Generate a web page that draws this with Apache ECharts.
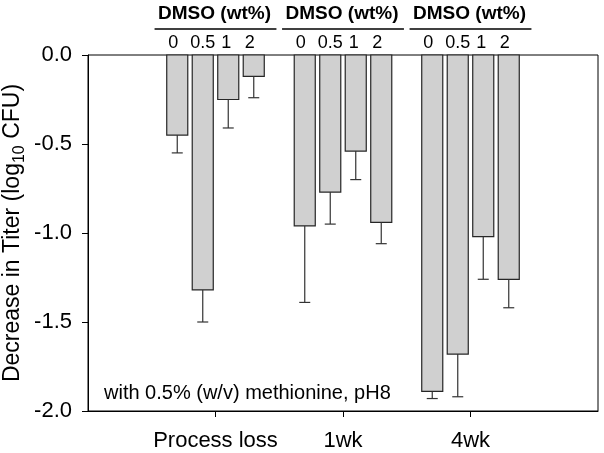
<!DOCTYPE html>
<html><head><meta charset="utf-8">
<script src="https://cdn.jsdelivr.net/npm/echarts@6/dist/echarts.min.js"></script>
<style>html,body{margin:0;padding:0;background:#fff}#c{width:604px;height:453px}</style>
</head><body><div id="c"></div>
<script>
const categories = ['Process loss', '1wk', '4wk'];
const dmsoLevels = ['0', '0.5', '1', '2'];
const titerDMSO0 = [-0.45, -0.96, -1.89];
const titerDMSO05 = [-1.32, -0.77, -1.68];
const titerDMSO1 = [-0.25, -0.54, -1.02];
const titerDMSO2 = [-0.12, -0.94, -1.26];
const errDMSO0 = [0.10, 0.43, 0.04];
const errDMSO05 = [0.18, 0.18, 0.24];
const errDMSO1 = [0.16, 0.16, 0.24];
const errDMSO2 = [0.12, 0.12, 0.16];
const yTicks = [-2.0, -1.5, -1.0, -0.5, 0.0];
const groupHeader = 'DMSO (wt%)';
const note = 'with 0.5% (w/v) methionine, pH8';

const values = [titerDMSO0, titerDMSO05, titerDMSO1, titerDMSO2];
const errors = [errDMSO0, errDMSO05, errDMSO1, errDMSO2];
const offsets = [-0.3, -0.1, 0.1, 0.3];
const labelShift = [-4, 0, -2, -4];
const BAR_W = 0.165;
const FONT = '"Liberation Sans", Arial, sans-serif';

function barItem(params, api) {
  const x = api.value(0), v = api.value(1), e = api.value(2);
  const p0 = api.coord([x - BAR_W / 2, 0]);
  const p1 = api.coord([x + BAR_W / 2, v]);
  const top = api.coord([x, v]);
  const end = api.coord([x, v - e]);
  const cap = 5.5;
  return { type: 'group', children: [
    { type: 'rect', shape: { x: p0[0], y: p0[1], width: p1[0] - p0[0], height: p1[1] - p0[1] },
      style: { fill: '#d0d0d0', stroke: '#262626', lineWidth: 1.2 } },
    { type: 'line', shape: { x1: top[0], y1: top[1], x2: end[0], y2: end[1] },
      style: { stroke: '#333', lineWidth: 1.2 } },
    { type: 'line', shape: { x1: end[0] - cap, y1: end[1], x2: end[0] + cap, y2: end[1] },
      style: { stroke: '#333', lineWidth: 1.2 } }
  ]};
}

function headerItem(params, api) {
  const x = api.value(0);
  const c = api.coord([x, 0]);
  const l = api.coord([x - 0.478, 0]);
  const r = api.coord([x + 0.478, 0]);
  const children = [
    { type: 'text', x: c[0] - 1, y: c[1] - 41, style: { text: groupHeader, fontSize: 19, fontWeight: 'bold', fontFamily: FONT, fill: '#000', align: 'center', verticalAlign: 'middle' } },
    { type: 'line', shape: { x1: l[0], y1: c[1] - 26, x2: r[0], y2: c[1] - 26 }, style: { stroke: '#000', lineWidth: 1.5 } }
  ];
  dmsoLevels.forEach((lv, j) => {
    const p = api.coord([x + offsets[j], 0]);
    children.push({ type: 'text', x: p[0] + labelShift[j], y: c[1] - 12, style: { text: lv, fontSize: 18, fontFamily: FONT, fill: '#000', align: 'center', verticalAlign: 'middle' } });
  });
  return { type: 'group', children };
}

const series = dmsoLevels.map((lv, j) => ({
  type: 'custom',
  name: lv,
  renderItem: barItem,
  encode: { x: 0, y: 1 },
  clip: false,
  data: categories.map((c, i) => [i + 1 + offsets[j], values[j][i], errors[j][i]])
}));
series.push({
  type: 'custom',
  renderItem: headerItem,
  encode: { x: 0, y: 1 },
  clip: false,
  silent: true,
  data: categories.map((c, i) => [i + 1, 0])
});

const chart = echarts.init(document.getElementById('c'), null, { renderer: 'canvas' });
chart.setOption({
  animation: false,
  backgroundColor: '#fff',
  textStyle: { fontFamily: FONT },
  grid: { left: 88, right: 6, top: 55, bottom: 42, show: true, borderColor: '#000', borderWidth: 1, backgroundColor: 'transparent', containLabel: false, outerBoundsMode: 'none' },
  xAxis: {
    type: 'value', min: 0, max: 4, interval: 1,
    axisLine: { onZero: false, lineStyle: { color: '#000', width: 1 } },
    axisTick: { customValues: [1, 2, 3], length: 6, lineStyle: { color: '#000' } },
    axisLabel: { customValues: [1, 2, 3], formatter: v => categories[Math.round(v) - 1] || '', fontSize: 22, color: '#000', margin: 19, fontFamily: FONT },
    splitLine: { show: false }
  },
  yAxis: {
    type: 'value', min: yTicks[0], max: yTicks[yTicks.length - 1], interval: 0.5,
    axisLine: { show: true, onZero: false, lineStyle: { color: '#000', width: 1 } },
    axisTick: { show: true, length: 6, lineStyle: { color: '#000' } },
    axisLabel: { formatter: v => v.toFixed(1), fontSize: 22, color: '#000', margin: 16, fontFamily: FONT },
    splitLine: { show: false },
    name: '{a|Decrease in Titer (log}{s|10}{a| CFU)}',
    nameLocation: 'middle',
    nameRotate: 90,
    nameGap: 64,
    nameMoveOverlap: false,
    nameTextStyle: {
      rich: {
        a: { fontSize: 23, fontFamily: FONT, color: '#000', lineHeight: 28, verticalAlign: 'bottom' },
        s: { fontSize: 16, fontFamily: FONT, color: '#000', lineHeight: 28, verticalAlign: 'bottom', padding: [0, 0, -4, 0] }
      }
    }
  },
  graphic: [
    { type: 'text', left: 104, top: 383, style: { text: note, fontSize: 20, fontFamily: FONT, fill: '#000' } }
  ],
  series
});
</script>
</body></html>
